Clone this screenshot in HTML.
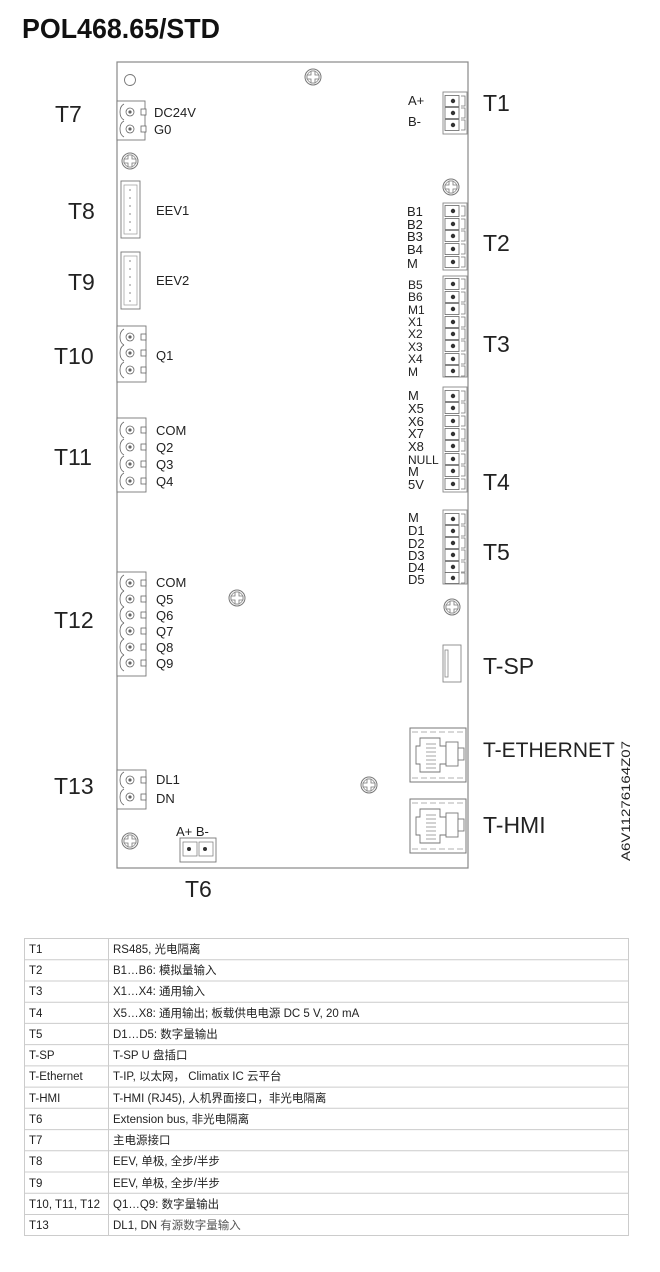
<!DOCTYPE html>
<html><head><meta charset="utf-8"><style>
html,body{margin:0;padding:0;background:#fff;}
svg{display:block;}
text{font-family:"Liberation Sans","Noto Sans CJK SC",sans-serif;fill:#222;}
</style></head><body>
<svg width="660" height="1272" viewBox="0 0 660 1272" xmlns="http://www.w3.org/2000/svg">
<defs>
<g id="screw"><circle r="8" fill="#fff" stroke="#777" stroke-width="1"/><circle r="6" fill="none" stroke="#888" stroke-width="0.8"/><path d="M-2,-6V-2H-6V2H-2V6H2V2H6V-2H2V-6Z" fill="#fff" stroke="#777" stroke-width="0.8"/></g>
<g id="lpin"><path d="M0,-8 q-4,2 -4,8 q0,6 4,8" fill="none" stroke="#666" stroke-width="0.8"/><circle cx="6" r="4" fill="#fff" stroke="#666" stroke-width="0.8"/><circle cx="6" r="1.6" fill="#666"/><rect x="17" y="-3" width="5" height="6" fill="#fff" stroke="#666" stroke-width="0.8"/></g>
<g id="rpin"><rect x="0" y="-5.5" width="14" height="11" fill="#fff" stroke="#666" stroke-width="0.8"/><circle cx="8" r="2.2" fill="#333"/><path d="M16,-5 h4 v10 h-4" fill="none" stroke="#777" stroke-width="0.8"/></g>
<g id="rj"><rect x="0" y="0" width="56" height="54" fill="#fff" stroke="#777" stroke-width="1"/><path d="M2,4 h52 M2,50 h52" stroke="#999" stroke-width="0.8" stroke-dasharray="6,3"/><path d="M10,10 h20 v8 h6 v18 h-6 v8 h-20 v-8 h-4 v-18 h4 z" fill="none" stroke="#777" stroke-width="0.9"/><rect x="36" y="14" width="12" height="24" fill="#fff" stroke="#777" stroke-width="0.9"/><rect x="48" y="20" width="6" height="12" fill="#fff" stroke="#777" stroke-width="0.9"/><path d="M16,16h10M16,20h10M16,24h10M16,28h10M16,32h10M16,36h10M16,40h10" stroke="#888" stroke-width="0.8"/></g>
</defs>

<text x="22" y="38" font-size="28" font-weight="bold" textLength="198" lengthAdjust="spacingAndGlyphs" style="fill:#111">POL468.65/STD</text>

<!-- board -->
<rect x="117" y="62" width="351" height="806" fill="#fff" stroke="#888" stroke-width="1.2"/>
<circle cx="130" cy="80" r="5.5" fill="#fff" stroke="#777" stroke-width="0.9"/>
<use href="#screw" x="313" y="77"/>
<use href="#screw" x="130" y="161"/>
<use href="#screw" x="451" y="187"/>
<use href="#screw" x="237" y="598"/>
<use href="#screw" x="452" y="607"/>
<use href="#screw" x="369" y="785"/>
<use href="#screw" x="130" y="841"/>

<!-- left connectors -->
<g font-size="13">
<rect x="117" y="101" width="28" height="39" fill="#fff" stroke="#777" stroke-width="0.9"/>
<use href="#lpin" x="124" y="112"/><use href="#lpin" x="124" y="129"/>
<text x="154" y="117">DC24V</text><text x="154" y="134">G0</text>

<rect x="121" y="181" width="19" height="57" fill="#fff" stroke="#777" stroke-width="0.9"/>
<rect x="124" y="185" width="13" height="49" fill="none" stroke="#999" stroke-width="0.7"/>
<g fill="#999"><circle cx="130" cy="190" r="0.9"/><circle cx="130" cy="198" r="0.9"/><circle cx="130" cy="206" r="0.9"/><circle cx="130" cy="214" r="0.9"/><circle cx="130" cy="222" r="0.9"/><circle cx="130" cy="230" r="0.9"/></g>
<text x="156" y="215">EEV1</text>

<rect x="121" y="252" width="19" height="57" fill="#fff" stroke="#777" stroke-width="0.9"/>
<rect x="124" y="256" width="13" height="49" fill="none" stroke="#999" stroke-width="0.7"/>
<g fill="#999"><circle cx="130" cy="261" r="0.9"/><circle cx="130" cy="269" r="0.9"/><circle cx="130" cy="277" r="0.9"/><circle cx="130" cy="285" r="0.9"/><circle cx="130" cy="293" r="0.9"/><circle cx="130" cy="301" r="0.9"/></g>
<text x="156" y="285">EEV2</text>

<rect x="117" y="326" width="29" height="56" fill="#fff" stroke="#777" stroke-width="0.9"/>
<use href="#lpin" x="124" y="337"/><use href="#lpin" x="124" y="353"/><use href="#lpin" x="124" y="370"/>
<text x="156" y="360">Q1</text>

<rect x="117" y="418" width="29" height="74" fill="#fff" stroke="#777" stroke-width="0.9"/>
<use href="#lpin" x="124" y="430"/><use href="#lpin" x="124" y="447"/><use href="#lpin" x="124" y="464"/><use href="#lpin" x="124" y="481"/>
<text x="156" y="435">COM</text><text x="156" y="452">Q2</text><text x="156" y="469">Q3</text><text x="156" y="486">Q4</text>

<rect x="117" y="572" width="29" height="104" fill="#fff" stroke="#777" stroke-width="0.9"/>
<use href="#lpin" x="124" y="583"/><use href="#lpin" x="124" y="599"/><use href="#lpin" x="124" y="615"/><use href="#lpin" x="124" y="631"/><use href="#lpin" x="124" y="647"/><use href="#lpin" x="124" y="663"/>
<text x="156" y="587">COM</text><text x="156" y="604">Q5</text><text x="156" y="620">Q6</text><text x="156" y="636">Q7</text><text x="156" y="652">Q8</text><text x="156" y="668">Q9</text>

<rect x="117" y="770" width="29" height="39" fill="#fff" stroke="#777" stroke-width="0.9"/>
<use href="#lpin" x="124" y="780"/><use href="#lpin" x="124" y="797"/>
<text x="156" y="784">DL1</text><text x="156" y="803">DN</text>

<text x="176" y="836" font-size="13">A+ B-</text>
<rect x="180" y="838" width="36" height="24" fill="#fff" stroke="#777" stroke-width="0.9"/>
<rect x="183" y="842" width="14" height="14" fill="#fff" stroke="#777" stroke-width="0.7"/><rect x="199" y="842" width="14" height="14" fill="#fff" stroke="#777" stroke-width="0.7"/>
<circle cx="189" cy="849" r="2" fill="#333"/><circle cx="205" cy="849" r="2" fill="#333"/>
</g>

<!-- right connectors -->
<g font-size="13">
<rect x="443" y="92" width="24" height="42" fill="#fff" stroke="#888" stroke-width="0.9"/>
<use href="#rpin" x="445" y="101"/><use href="#rpin" x="445" y="113"/><use href="#rpin" x="445" y="125"/>
<text x="408" y="105">A+</text><text x="408" y="126">B-</text>

<rect x="443" y="203" width="24" height="67" fill="#fff" stroke="#888" stroke-width="0.9"/>
<use href="#rpin" x="445" y="211"/><use href="#rpin" x="445" y="224"/><use href="#rpin" x="445" y="236"/><use href="#rpin" x="445" y="249"/><use href="#rpin" x="445" y="262"/>
<text x="407" y="216">B1</text><text x="407" y="229">B2</text><text x="407" y="241">B3</text><text x="407" y="254">B4</text><text x="407" y="268">M</text>

<rect x="443" y="276" width="24" height="101" fill="#fff" stroke="#888" stroke-width="0.9"/>
<use href="#rpin" x="445" y="284"/><use href="#rpin" x="445" y="297"/><use href="#rpin" x="445" y="309"/><use href="#rpin" x="445" y="322"/><use href="#rpin" x="445" y="334"/><use href="#rpin" x="445" y="346"/><use href="#rpin" x="445" y="359"/><use href="#rpin" x="445" y="371"/>
<g font-size="12"><text x="408" y="289">B5</text><text x="408" y="301">B6</text><text x="408" y="314">M1</text><text x="408" y="326">X1</text><text x="408" y="338">X2</text><text x="408" y="351">X3</text><text x="408" y="363">X4</text><text x="408" y="376">M</text></g>

<rect x="443" y="387" width="24" height="105" fill="#fff" stroke="#888" stroke-width="0.9"/>
<use href="#rpin" x="445" y="396"/><use href="#rpin" x="445" y="408"/><use href="#rpin" x="445" y="421"/><use href="#rpin" x="445" y="434"/><use href="#rpin" x="445" y="446"/><use href="#rpin" x="445" y="459"/><use href="#rpin" x="445" y="471"/><use href="#rpin" x="445" y="484"/>
<text x="408" y="400">M</text><text x="408" y="413">X5</text><text x="408" y="426">X6</text><text x="408" y="438">X7</text><text x="408" y="451">X8</text><text x="408" y="464" font-size="12">NULL</text><text x="408" y="476">M</text><text x="408" y="489">5V</text>

<rect x="443" y="510" width="24" height="74" fill="#fff" stroke="#888" stroke-width="0.9"/>
<use href="#rpin" x="445" y="519"/><use href="#rpin" x="445" y="531"/><use href="#rpin" x="445" y="543"/><use href="#rpin" x="445" y="555"/><use href="#rpin" x="445" y="567"/><use href="#rpin" x="445" y="578"/>
<text x="408" y="522">M</text><text x="408" y="535">D1</text><text x="408" y="548">D2</text><text x="408" y="560">D3</text><text x="408" y="572">D4</text><text x="408" y="584">D5</text>
</g>

<rect x="443" y="645" width="18" height="37" fill="#fff" stroke="#888" stroke-width="0.9"/>
<rect x="445" y="650" width="3" height="27" fill="none" stroke="#888" stroke-width="0.8"/>
<use href="#rj" x="410" y="728"/>
<use href="#rj" x="410" y="799"/>

<!-- terminal labels -->
<g font-size="23" style="fill:#222">
<text x="55" y="122">T7</text>
<text x="68" y="219">T8</text>
<text x="68" y="290">T9</text>
<text x="54" y="364">T10</text>
<text x="54" y="465">T11</text>
<text x="54" y="628">T12</text>
<text x="54" y="794">T13</text>
<text x="185" y="897">T6</text>
<text x="483" y="111">T1</text>
<text x="483" y="251">T2</text>
<text x="483" y="352">T3</text>
<text x="483" y="490">T4</text>
<text x="483" y="560">T5</text>
<text x="483" y="674">T-SP</text>
<text x="483" y="757" font-size="21">T-ETHERNET</text>
<text x="483" y="833">T-HMI</text>
</g>
<text transform="translate(630,861) rotate(-90)" font-size="12" textLength="120" lengthAdjust="spacingAndGlyphs">A6V11276164Z07</text>

<!-- table -->
<g stroke="#ccc" stroke-width="1" fill="none">
<rect x="24.5" y="938.5" width="604" height="297"/>
<line x1="108.5" y1="938" x2="108.5" y2="1236"/>
<path d="M24,959.7H629M24,981H629M24,1002.2H629M24,1023.4H629M24,1044.6H629M24,1065.9H629M24,1087.1H629M24,1108.3H629M24,1129.6H629M24,1150.8H629M24,1172H629M24,1193.3H629M24,1214.5H629"/>
</g>
<g font-size="11.5" style="fill:#222">
<text x="29" y="953">T1</text><text x="113" y="953">RS485, 光电隔离</text>
<text x="29" y="974">T2</text><text x="113" y="974">B1…B6: 模拟量输入</text>
<text x="29" y="995">T3</text><text x="113" y="995">X1…X4: 通用输入</text>
<text x="29" y="1017">T4</text><text x="113" y="1017">X5…X8: 通用输出; 板载供电电源 DC 5 V, 20 mA</text>
<text x="29" y="1038">T5</text><text x="113" y="1038">D1…D5: 数字量输出</text>
<text x="29" y="1059">T-SP</text><text x="113" y="1059">T-SP  U 盘插口</text>
<text x="29" y="1080">T-Ethernet</text><text x="113" y="1080">T-IP, 以太网，  Climatix IC 云平台</text>
<text x="29" y="1102">T-HMI</text><text x="113" y="1102">T-HMI (RJ45), 人机界面接口，非光电隔离</text>
<text x="29" y="1123">T6</text><text x="113" y="1123">Extension bus, 非光电隔离</text>
<text x="29" y="1144">T7</text><text x="113" y="1144">主电源接口</text>
<text x="29" y="1165">T8</text><text x="113" y="1165">EEV, 单极, 全步/半步</text>
<text x="29" y="1187">T9</text><text x="113" y="1187">EEV, 单极, 全步/半步</text>
<text x="29" y="1208">T10, T11, T12</text><text x="113" y="1208">Q1…Q9: 数字量输出</text>
<text x="29" y="1229">T13</text><text x="113" y="1229">DL1, DN <tspan style="fill:#555">有源数字量输入</tspan></text>
</g>
</svg>
</body></html>
